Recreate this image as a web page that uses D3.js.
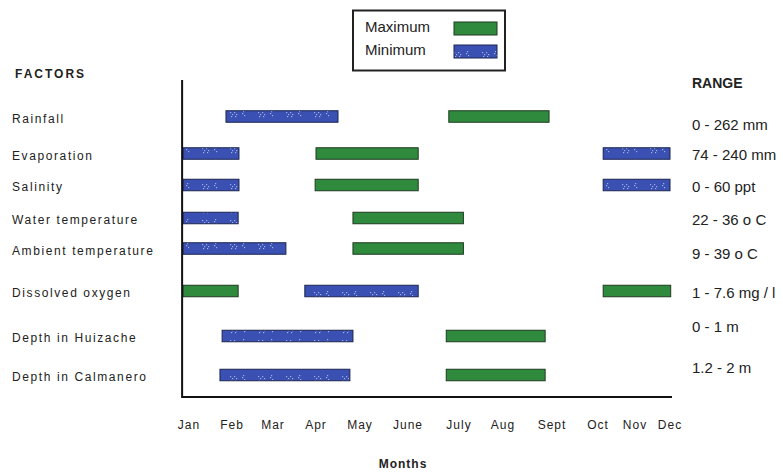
<!DOCTYPE html>
<html>
<head>
<meta charset="utf-8">
<script src="https://cdn.jsdelivr.net/npm/d3@7"></script>
<style>
  html, body { margin: 0; padding: 0; background: #fff; }
  svg { display: block; }
  .lbl { font-family: "Liberation Sans", Arial, sans-serif; fill: #222; }
  .narrow { font-family: "Liberation Sans Narrow", "Arial Narrow", "Liberation Sans", sans-serif; fill: #222; }
</style>
</head>
<body>
<svg id="chart" width="783" height="472"></svg>
<script>
// Factors on the vertical axis and their observed ranges
const factors = [
  "Rainfall", "Evaporation", "Salinity", "Water temperature",
  "Ambient temperature", "Dissolved oxygen", "Depth in Huizache", "Depth in Calmanero"
];
const ranges = [
  "0 - 262 mm", "74 - 240 mm", "0 - 60 ppt", "22 - 36 o C",
  "9 - 39 o C", "1 - 7.6 mg / l", "0 - 1 m", "1.2 - 2 m"
];
const months = ["Jan", "Feb", "Mar", "Apr", "May", "June", "July", "Aug", "Sept", "Oct", "Nov", "Dec"];

// Periods of minimum values: [factor, start month, end month] (0 = Jan)
const minimumSpans = [
  ["Rainfall", 0.86, 3.5],
  ["Evaporation", -0.14, 1.17], ["Evaporation", 9.14, 11.0],
  ["Salinity", -0.14, 1.17], ["Salinity", 9.14, 11.0],
  ["Water temperature", -0.14, 1.15],
  ["Ambient temperature", -0.14, 2.3],
  ["Dissolved oxygen", 2.74, 5.2],
  ["Depth in Huizache", 0.77, 3.84],
  ["Depth in Calmanero", 0.72, 3.77]
];
// Periods of maximum values
const maximumSpans = [
  ["Rainfall", 5.8, 7.94],
  ["Evaporation", 3.0, 5.2],
  ["Salinity", 2.98, 5.2],
  ["Water temperature", 3.84, 6.1],
  ["Ambient temperature", 3.84, 6.1],
  ["Dissolved oxygen", -0.14, 1.15], ["Dissolved oxygen", 9.14, 11.02],
  ["Depth in Huizache", 5.75, 7.86],
  ["Depth in Calmanero", 5.75, 7.86]
];
const axisStart = -0.16;

const svg = d3.select("#chart");

// Month positions along the time axis
const x = d3.scaleLinear()
  .domain(d3.range(12))
  .range([189, 232, 273, 316, 360, 408, 459, 503, 552, 598, 635, 670]);

// Row positions for each factor
const y = d3.scaleOrdinal()
  .domain(factors)
  .range([116.5, 153.5, 185, 218, 248.5, 291, 336, 375]);
const rangeY = d3.scaleOrdinal()
  .domain(factors)
  .range([126, 156, 188, 221, 255, 294, 328, 369]);

const barH = 11.5;
const blue = "#3a50b2", green = "#2f8a3d";

// Speckled fill for the minimum bars
const defs = svg.append("defs");
const pat = defs.append("pattern")
  .attr("id", "speckle").attr("patternUnits", "userSpaceOnUse")
  .attr("width", 28).attr("height", 12);
pat.append("rect").attr("width", 28).attr("height", 12).attr("fill", blue);
[[6,4],[8,6],[10,4],[12,6],[7,8],[11,8],[18,5],[20,7],[19,3]].forEach(([cx, cy]) => {
  pat.append("rect").attr("x", cx).attr("y", cy).attr("width", 1.2).attr("height", 1.2)
    .attr("fill", "#b9c6f0").attr("opacity", 0.8);
});

// Legend
const leg = svg.append("g");
leg.append("rect").attr("x", 353).attr("y", 10.5).attr("width", 152).attr("height", 60)
  .attr("fill", "#fff").attr("stroke", "#222").attr("stroke-width", 2);
leg.append("text").attr("class", "narrow").attr("x", 365).attr("y", 28)
  .attr("dominant-baseline", "middle").attr("font-size", 15).text("Maximum");
leg.append("text").attr("class", "narrow").attr("x", 365).attr("y", 51)
  .attr("dominant-baseline", "middle").attr("font-size", 15).text("Minimum");
leg.append("rect").attr("x", 454).attr("y", 22).attr("width", 43).attr("height", 13)
  .attr("fill", green).attr("stroke", "#1f3a22").attr("stroke-width", 1);
leg.append("rect").attr("x", 454).attr("y", 45).attr("width", 43).attr("height", 13)
  .attr("fill", "url(#speckle)").attr("stroke", "#1b2550").attr("stroke-width", 1);

// Column headings
svg.append("text").attr("class", "lbl").attr("x", 15).attr("y", 75)
  .attr("dominant-baseline", "middle").attr("font-size", 12).attr("font-weight", "bold")
  .attr("letter-spacing", 2).text("FACTORS");
svg.append("text").attr("class", "narrow").attr("x", 692).attr("y", 84)
  .attr("dominant-baseline", "middle").attr("font-size", 14).attr("font-weight", "bold")
  .text("RANGE");

// Factor labels
svg.append("g").selectAll("text").data(factors).join("text")
  .attr("class", "lbl")
  .attr("x", 12)
  .attr("y", d => y(d) + 3)
  .attr("dominant-baseline", "middle")
  .attr("font-size", 12)
  .attr("letter-spacing", 1.6)
  .text(d => d);

// Range labels
svg.append("g").selectAll("text").data(factors).join("text")
  .attr("class", "narrow")
  .attr("x", 692)
  .attr("y", d => rangeY(d))
  .attr("dominant-baseline", "middle")
  .attr("font-size", 15)
  .text((d, i) => ranges[i]);

// Bars
svg.append("g").selectAll("rect").data(maximumSpans).join("rect")
  .attr("x", d => x(d[1]))
  .attr("y", d => y(d[0]) - barH / 2)
  .attr("width", d => x(d[2]) - x(d[1]))
  .attr("height", barH)
  .attr("fill", green)
  .attr("stroke", "#1f3a22")
  .attr("stroke-width", 1);

svg.append("g").selectAll("rect").data(minimumSpans).join("rect")
  .attr("x", d => x(d[1]))
  .attr("y", d => y(d[0]) - barH / 2)
  .attr("width", d => x(d[2]) - x(d[1]))
  .attr("height", barH)
  .attr("fill", "url(#speckle)")
  .attr("stroke", "#1b2550")
  .attr("stroke-width", 1);

// Axis lines
const x0 = x(axisStart), x1 = x(11);
svg.append("line").attr("x1", x0).attr("x2", x0).attr("y1", 80).attr("y2", 398)
  .attr("stroke", "#111").attr("stroke-width", 2);
svg.append("line").attr("x1", x0).attr("x2", x1 + 2).attr("y1", 397).attr("y2", 397)
  .attr("stroke", "#111").attr("stroke-width", 2.2);

// Month labels
svg.append("g").selectAll("text").data(months).join("text")
  .attr("class", "lbl")
  .attr("x", (d, i) => x(i))
  .attr("y", 426)
  .attr("text-anchor", "middle")
  .attr("dominant-baseline", "middle")
  .attr("font-size", 12)
  .attr("letter-spacing", 1)
  .text(d => d);

svg.append("text").attr("class", "lbl").attr("x", 403).attr("y", 465)
  .attr("text-anchor", "middle").attr("dominant-baseline", "middle")
  .attr("font-size", 12).attr("font-weight", "bold").attr("letter-spacing", 1)
  .text("Months");
</script>
</body>
</html>
